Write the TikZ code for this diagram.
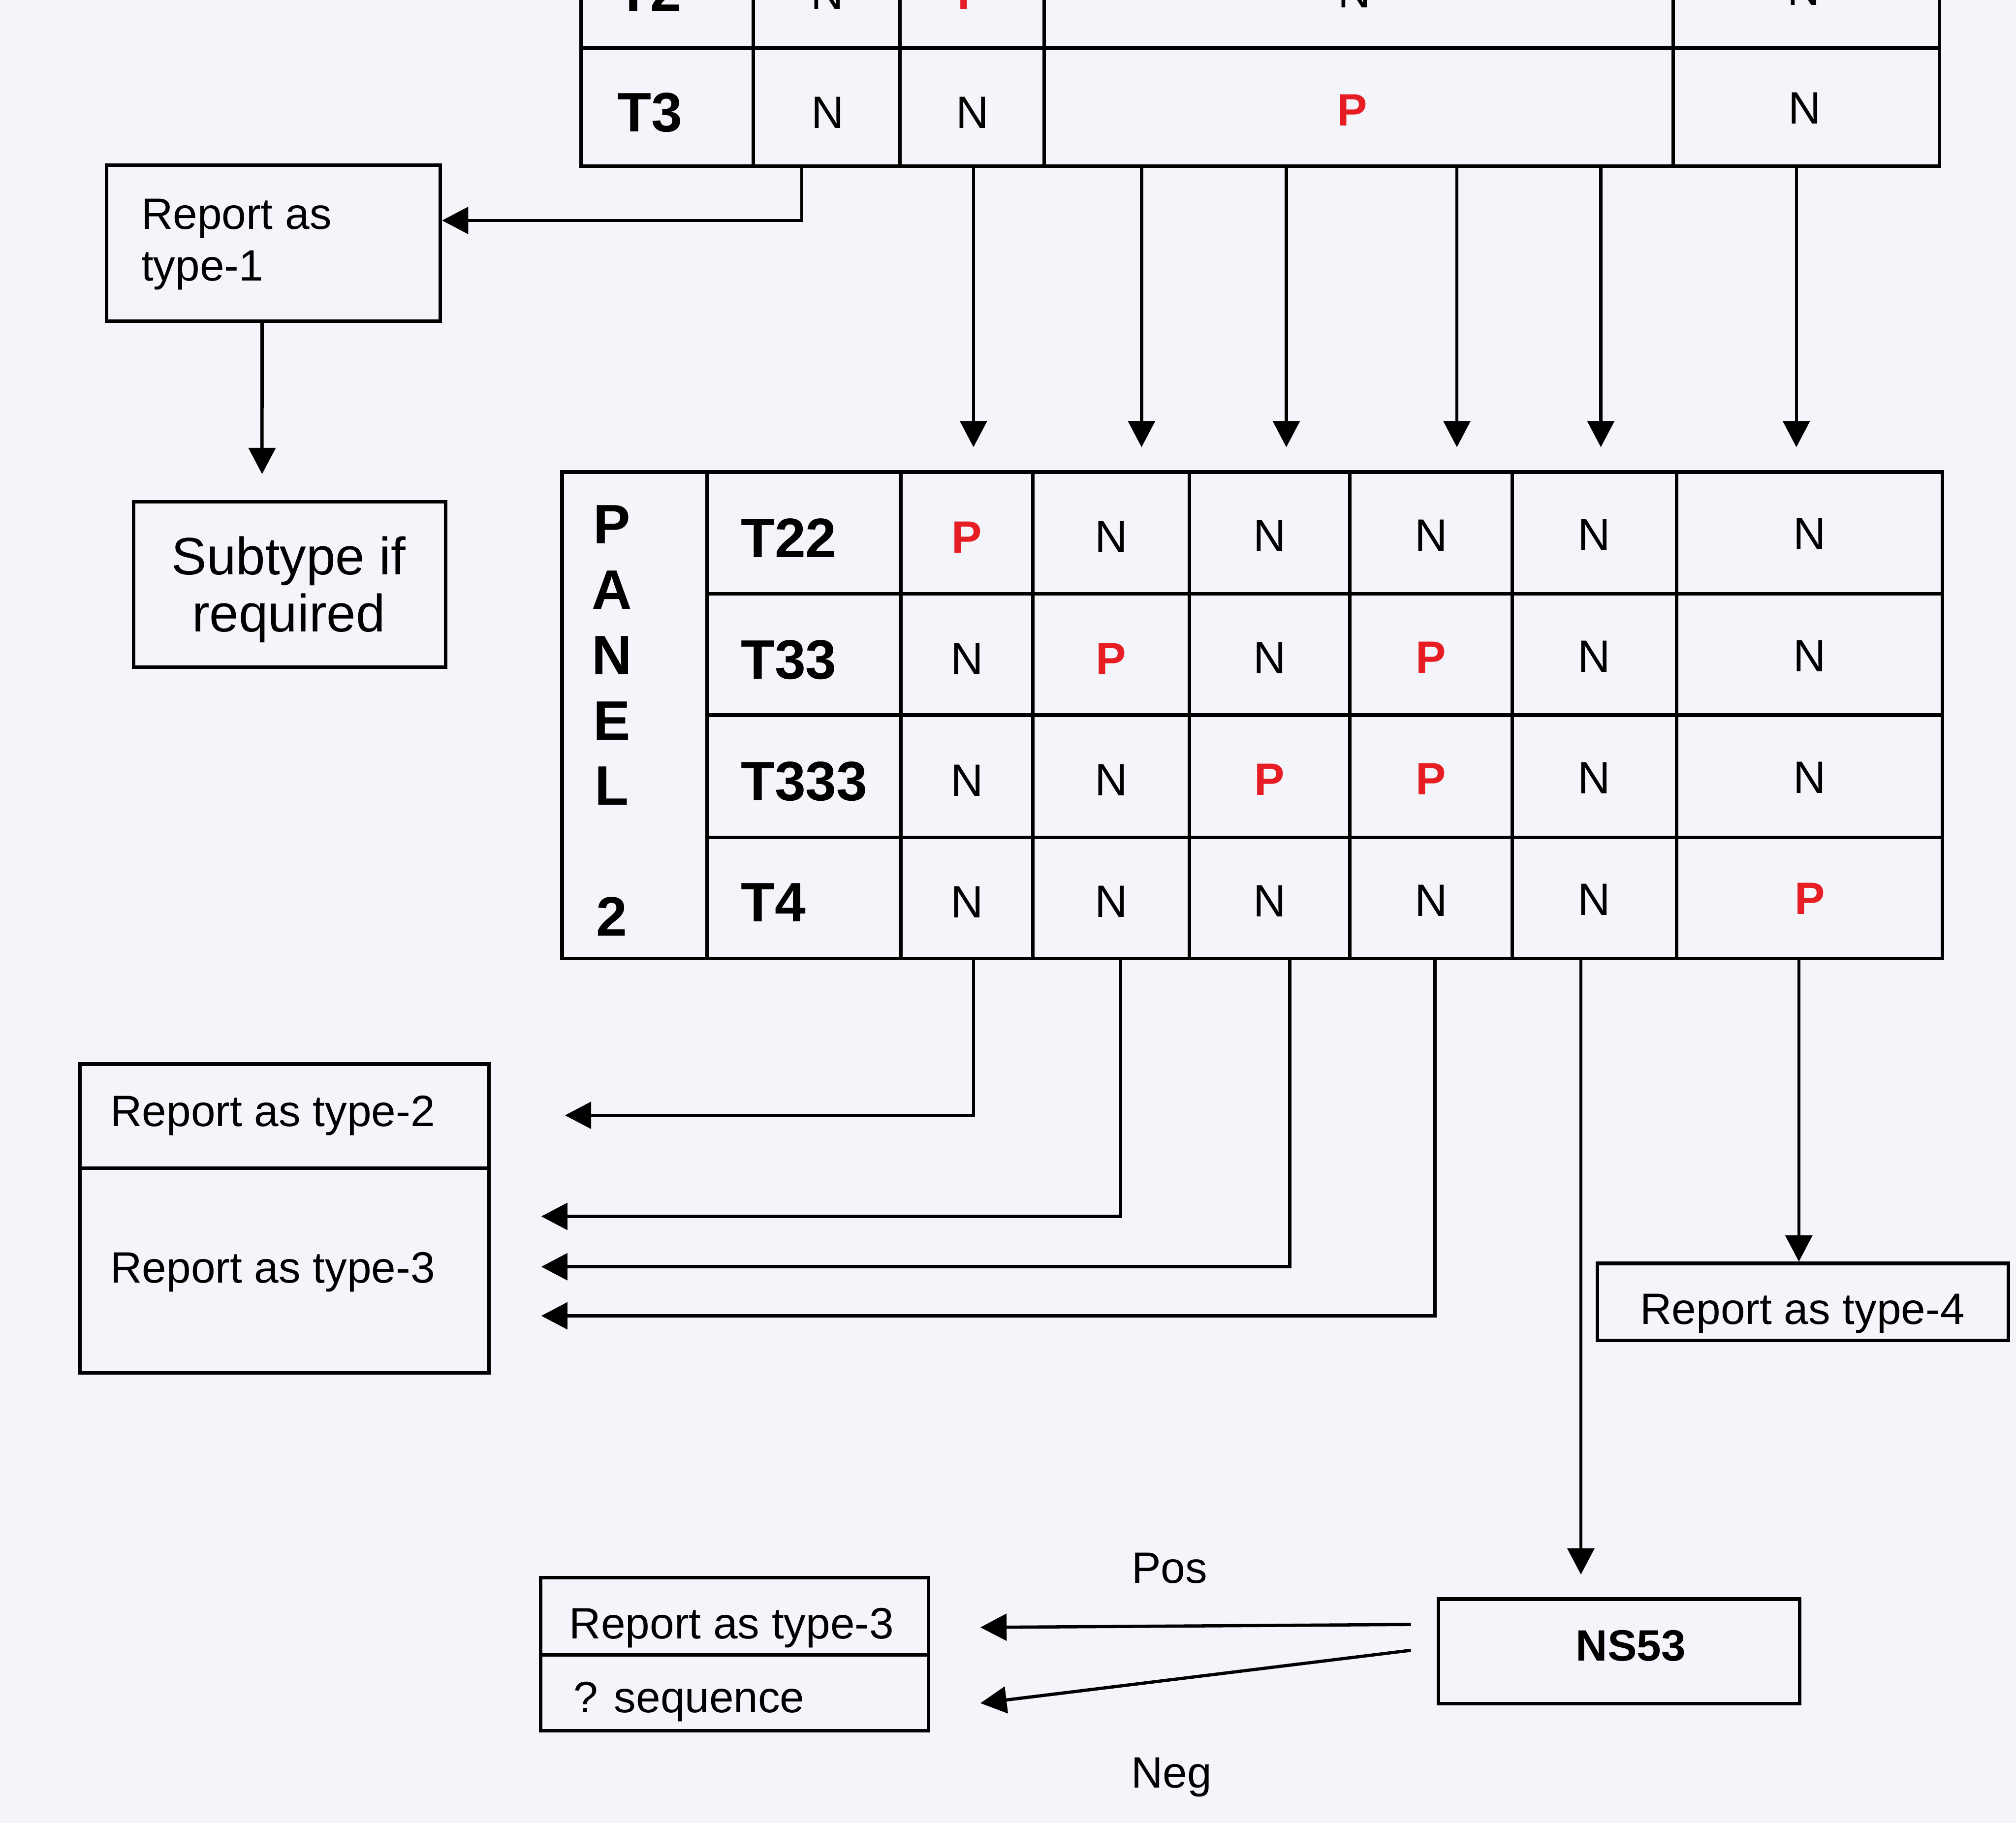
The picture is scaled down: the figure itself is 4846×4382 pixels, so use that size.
\documentclass[tikz,border=0pt]{standalone}
\usepackage{fontspec}
\setmainfont{Liberation Sans}
\usetikzlibrary{arrows.meta}
\definecolor{pagebg}{RGB}{244,245,251}
\definecolor{pred}{RGB}{230,30,36}
\begin{document}
\begin{tikzpicture}[x=0.01cm,y=-0.01cm,
  tline/.style={line width=2.4pt,line cap=rect},
  arr/.style={line width=2.2pt,-{Triangle[length=0.63cm,width=0.64cm]}},
  bx/.style={draw,line width=2.4pt,rectangle,inner sep=0pt},
  t30/.style={inner sep=0pt,font=\fontsize{30}{35.3}\selectfont},
  tb30/.style={inner sep=0pt,font=\fontsize{30}{36}\selectfont\bfseries},
  tb38/.style={inner sep=0pt,font=\fontsize{38}{44.7}\selectfont\bfseries},
  t36/.style={inner sep=0pt,font=\fontsize{36}{39}\selectfont},
  nv/.style={inner sep=0pt,anchor=base,font=\fontsize{31}{36}\selectfont},
  pv/.style={inner sep=0pt,anchor=base,text=pred,font=\fontsize{31}{36}\selectfont\bfseries},
]
\useasboundingbox (0,0) rectangle (4846,4382);
\fill[pagebg] (0,0) rectangle (4846,4382);
\begin{scope}
\clip (0,0) rectangle (4846,4382);

% ---------- top table (partly cut off) ----------
\draw[tline] (1397,-40) -- (1397,399) -- (4662,399) -- (4662,-40);
\draw[tline] (1397,116) -- (4662,116);
\foreach \x in {1811,2163,2510,4022} \draw[tline] (\x,-40) -- (\x,399);
\node[tb38,anchor=base west] (t2lab) at (1481,27) {T2};
\node[nv] (t2c2) at (1988,22) {N};
\node[pv] (t2c3) at (2338,22) {P};
\node[nv] (t2c4) at (3255,18) {N};
\node[nv] (t2c5) at (4336,12) {N};
\node[tb38,anchor=base west] (t3lab) at (1483,317) {T3};
\node[nv] (t3c2) at (1990,308) {N};
\node[nv] (t3c3) at (2338,308) {N};
\node[pv] (t3c4) at (3250,302) {P};
\node[nv] (t3c5) at (4338,298) {N};

% ---------- panel 2 table ----------
\node[bx,minimum width=33.16cm,minimum height=11.69cm] (panel) at (3010,1719.5) {};
\foreach \x in {1699,2165,2483,2859,3245,3635,4030} \draw[tline] (\x,1135) -- (\x,2304);
\foreach \y in {1427,1719,2013} \draw[tline] (1699,\y) -- (4668,\y);
\node[tb38,anchor=north,align=center] (panlab) at (1471,1214) {P\\A\\N\\E\\L\\[44.7pt]2};
\node[tb38,anchor=base west] (l22) at (1780,1340) {T22};
\node[tb38,anchor=base west] (l33) at (1780,1632) {T33};
\node[tb38,anchor=base west] (l333) at (1780,1924) {T333};
\node[tb38,anchor=base west] (l4) at (1780,2215) {T4};
% row T22
\node[pv] (v11) at (2324,1329) {P};
\node[nv] (v12) at (2671,1328) {N};
\node[nv] (v13) at (3052,1326) {N};
\node[nv] (v14) at (3440,1325) {N};
\node[nv] (v15) at (3832,1323) {N};
\node[nv] (v16) at (4350,1321) {N};
% row T33
\node[nv] (v21) at (2324,1622) {N};
\node[pv] (v22) at (2671,1621) {P};
\node[nv] (v23) at (3052,1619) {N};
\node[pv] (v24) at (3440,1618) {P};
\node[nv] (v25) at (3832,1616) {N};
\node[nv] (v26) at (4350,1614) {N};
% row T333
\node[nv] (v31) at (2324,1914) {N};
\node[nv] (v32) at (2671,1913) {N};
\node[pv] (v33) at (3052,1911) {P};
\node[pv] (v34) at (3440,1910) {P};
\node[nv] (v35) at (3832,1908) {N};
\node[nv] (v36) at (4350,1906) {N};
% row T4
\node[nv] (v41) at (2324,2206) {N};
\node[nv] (v42) at (2671,2205) {N};
\node[nv] (v43) at (3052,2203) {N};
\node[nv] (v44) at (3440,2202) {N};
\node[nv] (v45) at (3832,2200) {N};
\node[pv] (v46) at (4350,2198) {P};

% ---------- boxes ----------
\node[bx,minimum width=8.02cm,minimum height=3.75cm] (r1) at (657,584.5) {};
\node[t30,anchor=north west,align=left] (r1t) at (339,478) {Report as\\type-1};
\node[bx,minimum width=7.5cm,minimum height=3.98cm] (sub) at (696,1405) {};
\node[t36,anchor=north,align=center] (subt) at (694,1289) {Subtype if\\required};
\node[bx,minimum width=9.83cm,minimum height=7.42cm] (r23) at (683.5,2929) {};
\draw[tline] (192,2808) -- (1175,2808);
\node[t30,anchor=base west] (r2t) at (265,2707) {Report as type-2};
\node[t30,anchor=base west] (r3t) at (265,3084) {Report as type-3};
\node[bx,minimum width=9.87cm,minimum height=1.85cm] (r4) at (4333.5,3129.5) {};
\node[t30,anchor=base west] (r4t) at (3942,3183) {Report as type-4};
\node[bx,minimum width=8.68cm,minimum height=2.51cm] (ns) at (3892,3969.5) {};
\node[tb30,anchor=base] (nst) at (3920,3992) {NS53};
\node[bx,minimum width=9.32cm,minimum height=3.68cm] (r3s) at (1766,3976) {};
\draw[tline] (1300,3978) -- (2232,3978);
\node[t30,anchor=base west] (r3bt) at (1368,3939) {Report as type-3};
\node[t30,anchor=base west] (seqt) at (1378,4116) {? sequence};
\node[t30,anchor=base] (pos) at (2811,3805) {Pos};
\node[t30,anchor=base] (neg) at (2816,4298) {Neg};

% ---------- connectors ----------
\coordinate (a1) at (1927,399);
\draw[arr] (a1) |- ([yshift=0.545cm]r1.east);
\foreach \x/\n in {2340/2,2744/3,3092/4,3502/5,3848/6,4318/7}{
  \coordinate (a\n) at (\x,399);
  \coordinate (e\n) at (\x,1075);
  \draw[arr] (a\n) -- (e\n);
}
\draw[arr] ([xshift=-0.27cm]r1.south) -- ([xshift=-0.66cm,yshift=0.62cm]sub.north);

\coordinate (b1) at (2340,2304);
\coordinate (b2) at (2694,2304);
\coordinate (b3) at (3100,2304);
\coordinate (b4) at (3449,2304);
\coordinate (b5) at (3800,2304);
\coordinate (b6) at (4324,2304);
\coordinate (f1) at (1358,2681);
\coordinate (f2) at (1301,2924);
\coordinate (f3) at (1301,3045);
\coordinate (f4) at (1301,3163);
\coordinate (f5) at (3800,3785);
\draw[arr] (b1) |- (f1);
\draw[arr] (b2) |- (f2);
\draw[arr] (b3) |- (f3);
\draw[arr] (b4) |- (f4);
\draw[arr] (b5) -- (f5);
\draw[arr] (b6) -- (b6 |- r4.north);
\draw[arr] ([xshift=-0.62cm,yshift=0.645cm]ns.west) -- ([xshift=1.2cm,yshift=0.64cm]r3s.east);
\draw[arr] ([xshift=-0.62cm,yshift=0.025cm]ns.west) -- ([xshift=1.2cm,yshift=-1.18cm]r3s.east);
\end{scope}
\end{tikzpicture}
\end{document}
